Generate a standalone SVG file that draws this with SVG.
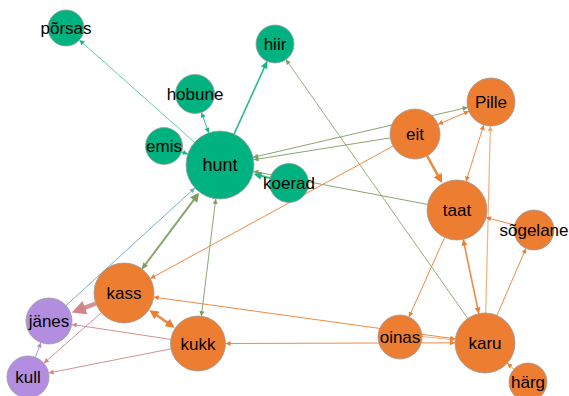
<svg xmlns="http://www.w3.org/2000/svg" width="569" height="396" viewBox="0 0 569 396">
<style>
.e{fill:none;stroke-opacity:0.9}
.g{stroke:#18b383}
.ol{stroke:#7d9c5e}
.o{stroke:#ed7d31}
.lo{stroke:#f3a676}
.pk{stroke:#d0858a}
.tb{stroke:#66abbc}
.pu{stroke:#b18ce0}
.n circle{stroke:#9a9a9a;stroke-width:0.8}
.gn circle{fill:#00b27f}
.on circle{fill:#ed7d31}
.pn circle{fill:#b38ee0}
.n text{font-family:"Liberation Sans",Arial,sans-serif;font-size:17px;fill:#000;text-anchor:middle}
</style>
<defs>
<marker id="ag" viewBox="0 0 10 10" refX="10" refY="5" markerWidth="6" markerHeight="5" markerUnits="userSpaceOnUse" orient="auto-start-reverse"><path d="M0,0L10,5L0,10Z" fill="#18b383"/></marker>
<marker id="ag2" viewBox="0 0 10 10" refX="10" refY="5" markerWidth="8" markerHeight="7" markerUnits="userSpaceOnUse" orient="auto-start-reverse"><path d="M0,0L10,5L0,10Z" fill="#18b383"/></marker>
<marker id="agm" viewBox="0 0 10 10" refX="3" refY="5" markerWidth="9" markerHeight="8" markerUnits="userSpaceOnUse" orient="auto-start-reverse"><path d="M0,0L10,5L0,10Z" fill="#18b383"/></marker>
<marker id="aol" viewBox="0 0 10 10" refX="10" refY="5" markerWidth="6" markerHeight="5" markerUnits="userSpaceOnUse" orient="auto-start-reverse"><path d="M0,0L10,5L0,10Z" fill="#7d9c5e"/></marker>
<marker id="aol2" viewBox="0 0 10 10" refX="10" refY="5" markerWidth="7" markerHeight="6" markerUnits="userSpaceOnUse" orient="auto-start-reverse"><path d="M0,0L10,5L0,10Z" fill="#7d9c5e"/></marker>
<marker id="aolm" viewBox="0 0 10 10" refX="3" refY="5" markerWidth="10" markerHeight="9" markerUnits="userSpaceOnUse" orient="auto-start-reverse"><path d="M0,0L10,5L0,10Z" fill="#7d9c5e"/></marker>
<marker id="ao" viewBox="0 0 10 10" refX="10" refY="5" markerWidth="6" markerHeight="5" markerUnits="userSpaceOnUse" orient="auto-start-reverse"><path d="M0,0L10,5L0,10Z" fill="#ed7d31"/></marker>
<marker id="ao2" viewBox="0 0 10 10" refX="10" refY="5" markerWidth="8" markerHeight="6" markerUnits="userSpaceOnUse" orient="auto-start-reverse"><path d="M0,0L10,5L0,10Z" fill="#ed7d31"/></marker>
<marker id="aom" viewBox="0 0 10 10" refX="3" refY="5" markerWidth="10" markerHeight="9" markerUnits="userSpaceOnUse" orient="auto-start-reverse"><path d="M0,0L10,5L0,10Z" fill="#ed7d31"/></marker>
<marker id="alo" viewBox="0 0 10 10" refX="10" refY="5" markerWidth="6" markerHeight="5" markerUnits="userSpaceOnUse" orient="auto-start-reverse"><path d="M0,0L10,5L0,10Z" fill="#f3a676"/></marker>
<marker id="apk" viewBox="0 0 10 10" refX="10" refY="5" markerWidth="6" markerHeight="5" markerUnits="userSpaceOnUse" orient="auto-start-reverse"><path d="M0,0L10,5L0,10Z" fill="#d0858a"/></marker>
<marker id="apkl" viewBox="0 0 10 10" refX="3" refY="5" markerWidth="16" markerHeight="14" markerUnits="userSpaceOnUse" orient="auto-start-reverse"><path d="M0,0L10,5L0,10Z" fill="#d0858a"/></marker>
<marker id="atb" viewBox="0 0 10 10" refX="10" refY="5" markerWidth="6" markerHeight="5" markerUnits="userSpaceOnUse" orient="auto-start-reverse"><path d="M0,0L10,5L0,10Z" fill="#66abbc"/></marker>
<marker id="apu" viewBox="0 0 10 10" refX="10" refY="5" markerWidth="6" markerHeight="5" markerUnits="userSpaceOnUse" orient="auto-start-reverse"><path d="M0,0L10,5L0,10Z" fill="#b18ce0"/></marker>
</defs>
<rect width="569" height="396" fill="#fff"/>
<g id="connectors">
<line class="e g" x1="194.6" y1="142.4" x2="79.4" y2="40" stroke-width="0.9" style="stroke:#3cc19a" marker-end="url(#ag)"/>
<line class="e g" x1="234.1" y1="134.1" x2="267.1" y2="61.3" stroke-width="1.6" marker-end="url(#ag2)"/>
<line class="e g" x1="208.7" y1="132.9" x2="201.5" y2="112.4" stroke-width="1" marker-start="url(#ag)" marker-end="url(#ag)"/>
<line class="e g" x1="181.5" y1="151.9" x2="187.8" y2="154.1" stroke-width="1.2" marker-end="url(#ag)"/>
<line class="e g" x1="270.1" y1="178.1" x2="259" y2="175.2" stroke-width="2" marker-end="url(#agm)"/>
<line class="e ol" x1="390.3" y1="137.9" x2="253.6" y2="159.7" stroke-width="1" marker-end="url(#aol)"/>
<line class="e ol" x1="467.6" y1="107.4" x2="253.1" y2="157.3" stroke-width="1" marker-start="url(#aol)" marker-end="url(#aol)"/>
<line class="e ol" x1="427.5" y1="204.4" x2="253.4" y2="171.4" stroke-width="1" marker-end="url(#aol)"/>
<line class="e ol" x1="467.8" y1="318.5" x2="285.9" y2="59.5" stroke-width="0.9" marker-end="url(#aol)"/>
<line class="e ol" x1="142" y1="269" x2="195.3" y2="197.8" stroke-width="2" marker-start="url(#aol2)" marker-end="url(#aolm)"/>
<line class="e ol" x1="201.3" y1="316.2" x2="215.8" y2="198.7" stroke-width="1" marker-start="url(#aol)" marker-end="url(#aol)"/>
<line class="e tb" x1="66" y1="305.5" x2="194.9" y2="187.9" stroke-width="1" marker-end="url(#atb)"/>
<line class="e o" x1="427.1" y1="155.9" x2="439.1" y2="177.6" stroke-width="2.5" marker-end="url(#aom)"/>
<line class="e o" x1="438" y1="124.3" x2="468.9" y2="111.3" stroke-width="1" marker-start="url(#ao)" marker-end="url(#ao)"/>
<line class="e o" x1="466" y1="181.4" x2="483.8" y2="124.9" stroke-width="1" marker-start="url(#ao)" marker-end="url(#ao)"/>
<line class="e lo" x1="485.7" y1="313" x2="490.4" y2="126" stroke-width="1.2" marker-end="url(#alo)"/>
<line class="e o" x1="393.1" y1="146" x2="150.3" y2="278.6" stroke-width="1" marker-end="url(#ao)"/>
<line class="e o" x1="514.6" y1="225" x2="486" y2="217.5" stroke-width="1" marker-end="url(#ao)"/>
<line class="e o" x1="496.9" y1="315.5" x2="526" y2="248.3" stroke-width="1" marker-end="url(#ao)"/>
<line class="e o" x1="463.2" y1="239.4" x2="478.8" y2="313.6" stroke-width="1.6" marker-start="url(#ao2)" marker-end="url(#ao2)"/>
<line class="e o" x1="444.7" y1="237.4" x2="409" y2="317" stroke-width="1" marker-end="url(#ao)"/>
<line class="e lo" x1="422" y1="336.5" x2="455" y2="339.9" stroke-width="1" marker-end="url(#alo)"/>
<line class="e o" x1="153.7" y1="297.1" x2="455.3" y2="338.9" stroke-width="1" marker-start="url(#ao)" marker-end="url(#ao)"/>
<line class="e o" x1="225.5" y1="343.5" x2="455" y2="342.8" stroke-width="1" marker-start="url(#ao)" marker-end="url(#ao)"/>
<line class="e o" x1="513.9" y1="369.2" x2="507.2" y2="363.2" stroke-width="1" marker-end="url(#ao)"/>
<line class="e o" x1="154.6" y1="313.8" x2="169.5" y2="324.1" stroke-width="2.5" marker-start="url(#aom)" marker-end="url(#aom)"/>
<line class="e pk" x1="95.9" y1="303.5" x2="81" y2="309.1" stroke-width="4.5" marker-end="url(#apkl)"/>
<line class="e pk" x1="170.8" y1="339.4" x2="71.7" y2="324.4" stroke-width="1" marker-end="url(#apk)"/>
<line class="e pk" x1="171" y1="348.8" x2="48.6" y2="373" stroke-width="1" marker-end="url(#apk)"/>
<line class="e pk" x1="101.4" y1="312.7" x2="43.8" y2="363.2" stroke-width="1" marker-end="url(#apk)"/>
<line class="e pu" x1="35.4" y1="357.3" x2="40.9" y2="342.5" stroke-width="1" marker-end="url(#apu)"/>
</g>
<g id="n-porsas" class="n gn"><circle cx="66" cy="28" r="18"/><text x="66" y="34">põrsas</text></g>
<g id="n-hiir" class="n gn"><circle cx="275" cy="44" r="19"/><text x="275" y="50">hiir</text></g>
<g id="n-hobune" class="n gn"><circle cx="195" cy="94" r="19.5"/><text x="195" y="100">hobune</text></g>
<g id="n-emis" class="n gn"><circle cx="164" cy="146" r="18.5"/><text x="164" y="152">emis</text></g>
<g id="n-hunt" class="n gn"><circle cx="220" cy="165" r="34"/><text x="220" y="171" style="font-size:18px">hunt</text></g>
<g id="n-koerad" class="n gn"><circle cx="289" cy="183" r="19.5"/><text x="289" y="189">koerad</text></g>
<g id="n-pille" class="n on"><circle cx="491" cy="102" r="24"/><text x="491" y="108">Pille</text></g>
<g id="n-eit" class="n on"><circle cx="415" cy="134" r="25"/><text x="415" y="140">eit</text></g>
<g id="n-taat" class="n on"><circle cx="457" cy="210" r="30"/><text x="457" y="216">taat</text></g>
<g id="n-sogelane" class="n on"><circle cx="534" cy="230" r="20"/><text x="534" y="236">sõgelane</text></g>
<g id="n-oinas" class="n on"><circle cx="400" cy="337" r="22"/><text x="400" y="343">oinas</text></g>
<g id="n-karu" class="n on"><circle cx="485" cy="343" r="30"/><text x="485" y="349">karu</text></g>
<g id="n-harg" class="n on"><circle cx="528" cy="382" r="19"/><text x="528" y="388">härg</text></g>
<g id="n-kass" class="n on"><circle cx="124" cy="293" r="30"/><text x="124" y="299">kass</text></g>
<g id="n-kukk" class="n on"><circle cx="198" cy="343.5" r="27.5"/><text x="198" y="349.5">kukk</text></g>
<g id="n-janes" class="n pn"><circle cx="49" cy="321" r="23"/><text x="49" y="327">jänes</text></g>
<g id="n-kull" class="n pn"><circle cx="28" cy="377" r="21"/><text x="28" y="383">kull</text></g>
</svg>
